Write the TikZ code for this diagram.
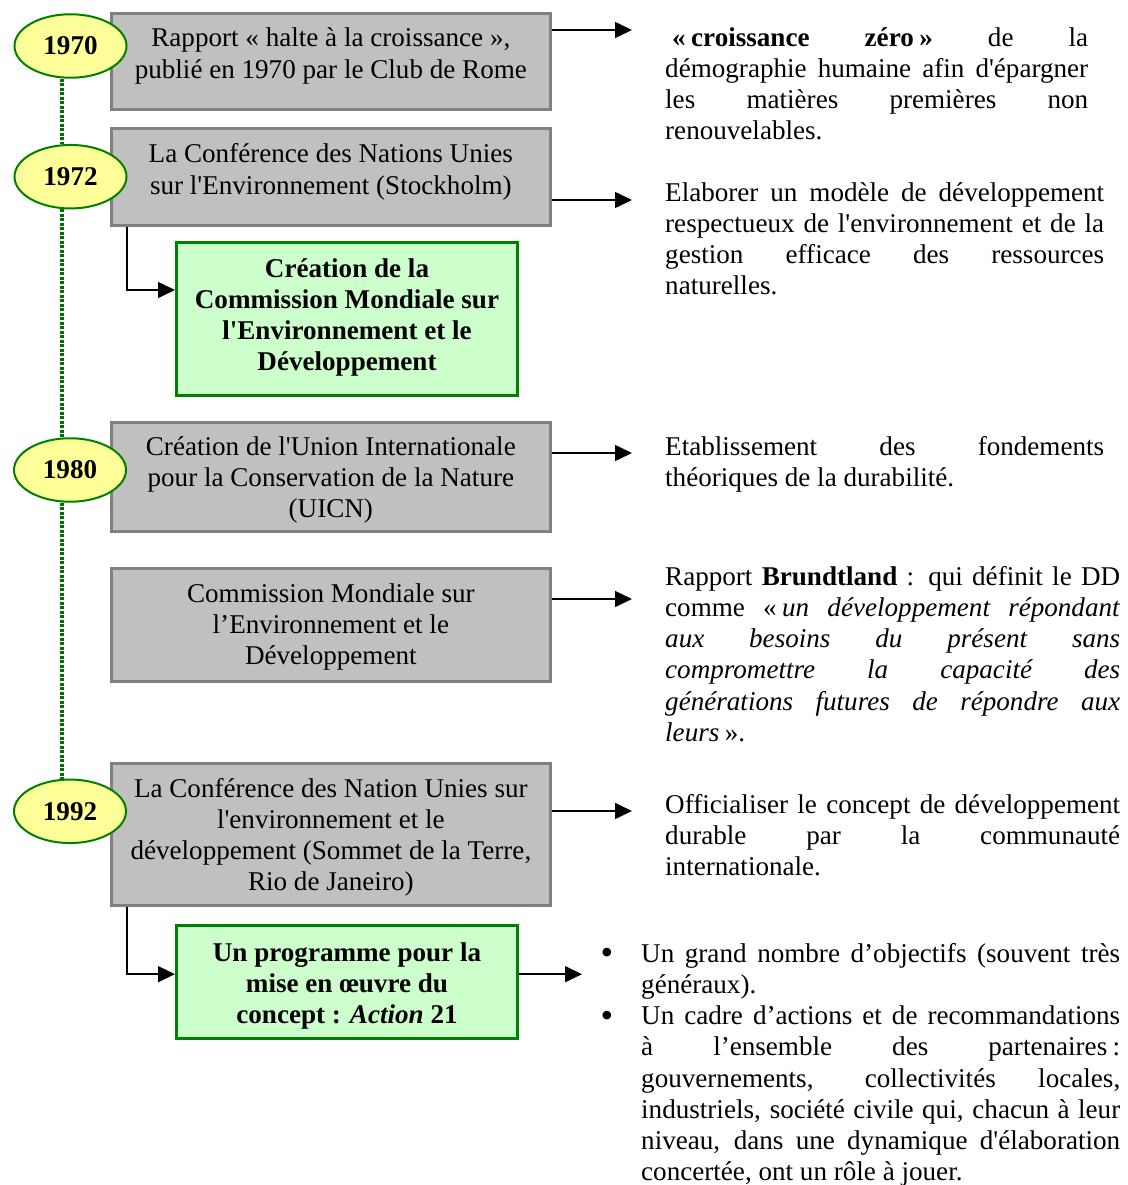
\documentclass[tikz,border=0pt]{standalone}
\usepackage{fontspec}
\setmainfont{Liberation Serif}[Ligatures=TeXOff]
\usetikzlibrary{arrows.meta,shapes.geometric}
\definecolor{gfill}{HTML}{C0C0C0}
\definecolor{gline}{HTML}{808080}
\definecolor{vfill}{HTML}{CCFFCC}
\definecolor{vline}{HTML}{008000}
\definecolor{dline}{HTML}{007000}
\definecolor{yfill}{HTML}{FFFF99}
\newcommand{\bxt}[4]{\parbox[c][#2][t]{#1}{\centering\rule{0pt}{#3}#4}}
\newcommand{\jl}[2]{\makebox[#1][s]{#2}}
\newcommand{\bul}{\llap{\makebox[40.5pt][l]{\raisebox{-2.5pt}{\fontsize{36}{36}\selectfont •}}}}
\begin{document}
\begin{tikzpicture}[x=1pt,y=-1pt,
  every node/.style={font=\fontsize{27.1}{31.2}\selectfont, inner sep=0pt},
  graybox/.style={draw=gline, fill=gfill, line width=3pt, anchor=north west},
  greenbox/.style={draw=vline, fill=vfill, line width=3pt, anchor=north west, font=\fontsize{27.1}{31.2}\selectfont\bfseries},
  year/.style={ellipse, draw=vline, fill=yfill, line width=2pt, minimum width=112pt, minimum height=63.5pt, font=\fontsize{27.1}{31.2}\selectfont\bfseries},
  rtext/.style={anchor=north west, align=left},
  conn/.style={line width=1.5pt, -{Triangle[length=17pt,width=16pt]}},
  dotline/.style={draw=dline, line width=3.5pt, dash pattern=on 3pt off 1.5pt}
]
\fill[white] (0,0) rectangle (1127,1185);
\useasboundingbox (0,0) rectangle (1127,1185);

% timeline x position
\coordinate (d0) at (62,0);

% boxes
\node[graybox] (b1) at (110,11.7) {\bxt{438.7pt}{96.3pt}{33.8pt}{Rapport « halte à la croissance »,\\publié en 1970 par le Club de Rome}};
\node[graybox] (b2) at (110,126.7) {\bxt{438.7pt}{97pt}{34.8pt}{La Conférence des Nations Unies\\sur l'Environnement (Stockholm)}};
\node[greenbox] (g1) at (175,240.7) {\bxt{341pt}{153pt}{34.8pt}{Création de la\\Commission Mondiale sur\\l'Environnement et le\\Développement}};
\node[graybox] (b3) at (110,420.7) {\bxt{438.7pt}{109.6pt}{32.8pt}{Création de l'Union Internationale\\pour la Conservation de la Nature\\(UICN)}};
\node[graybox] (b4) at (110,566.7) {\bxt{438.7pt}{113pt}{33.8pt}{Commission Mondiale sur\\l’Environnement et le\\Développement}};
\node[graybox] (b5) at (110,761.7) {\bxt{438.7pt}{142pt}{33.8pt}{La Conférence des Nation Unies sur\\l'environnement et le\\développement (Sommet de la Terre,\\Rio de Janeiro)}};
\node[greenbox] (g2) at (175,924.3) {\bxt{341pt}{112.7pt}{35.7pt}{Un programme pour la\\mise en œuvre du\\concept : \textit{Action} 21}};

% year ellipses
\node[year] (e1970) at (70.5,46) {1970};
\node[year] (e1972) at (70.5,176.7) {1972};
\node[year] (e1980) at (70,470) {1980};
\node[year] (e1992) at (70,811.3) {1992};

\draw[dotline] (e1970.south -| d0) -- (e1972.north -| d0);
\draw[dotline] (e1972.south -| d0) -- (e1980.north -| d0);
\draw[dotline] (e1980.south -| d0) -- (e1992.north -| d0);

% right texts
\node[rtext] (r1) at (665,21) {\rule{0pt}{25pt}\jl{423pt}{\hspace*{7pt}\textbf{«\hspace{0.2em}croissance zéro\hspace{0.2em}»} de la}\\
\jl{423pt}{démographie humaine afin d'épargner}\\
\jl{423pt}{les matières premières non}\\
renouvelables.};
\node[rtext] (r2) at (665,176) {\rule{0pt}{25pt}\jl{439pt}{Elaborer un modèle de développement}\\
\jl{439pt}{respectueux de l'environnement et de la}\\
\jl{439pt}{gestion efficace des ressources}\\
naturelles.};
\node[rtext] (r3) at (665,430) {\rule{0pt}{25pt}\jl{439pt}{Etablissement des fondements}\\
théoriques de la durabilité.};
\node[rtext] (r4) at (665,560) {\rule{0pt}{25pt}\jl{455pt}{Rapport \textbf{Brundtland} : qui définit le DD}\\
\jl{455pt}{comme «\hspace{0.2em}\textit{un développement répondant}}\\
\jl{455pt}{\textit{aux besoins du présent sans}}\\
\jl{455pt}{\textit{compromettre la capacité des}}\\
\jl{455pt}{\textit{générations futures de répondre aux}}\\
\textit{leurs}\hspace{0.2em}».};
\node[rtext] (r5) at (665,788) {\rule{0pt}{25pt}\jl{455pt}{Officialiser le concept de développement}\\
\jl{455pt}{durable par la communauté}\\
internationale.};
\node[rtext] (r6) at (641,937) {\rule{0pt}{25pt}\bul\jl{479pt}{Un grand nombre d’objectifs (souvent très}\\
généraux).\\
\bul\jl{479pt}{Un cadre d’actions et de recommandations}\\
\jl{479pt}{à l’ensemble des partenaires\hspace{0.2em}:}\\
\jl{479pt}{gouvernements, collectivités locales,}\\
\jl{479pt}{industriels, société civile qui, chacun à leur}\\
\jl{479pt}{niveau, dans une dynamique d'élaboration}\\
concertée, ont un rôle à jouer.};

% arrow ends
\coordinate (a1) at (632,30);
\coordinate (a2) at (632,200);
\coordinate (a3) at (632,453);
\coordinate (a4) at (632,599);
\coordinate (a5) at (632,811);
\coordinate (a6) at (582,974.2);

\draw[conn] (b1.east |- a1) -- (a1);
\draw[conn] (b2.east |- a2) -- (a2);
\draw[conn] (b3.east |- a3) -- (a3);
\draw[conn] (b4.east |- a4) -- (a4);
\draw[conn] (b5.east |- a5) -- (a5);
\draw[conn] (g2.east |- a6) -- (a6);

\draw[conn] ([xshift=17pt]b2.south west) |- ([yshift=28.7pt]g1.west);
\draw[conn] ([xshift=17pt]b5.south west) |- ([yshift=8pt]g2.west);
\end{tikzpicture}
\end{document}
